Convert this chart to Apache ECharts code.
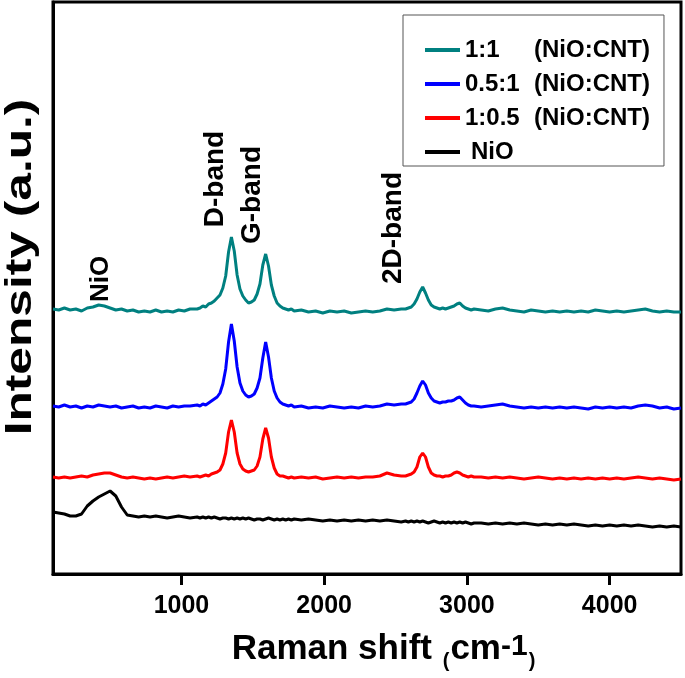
<!DOCTYPE html>
<html><head><meta charset="utf-8">
<script src="https://cdn.jsdelivr.net/npm/echarts@6/dist/echarts.min.js"></script>
<style>html,body{margin:0;padding:0;background:#fff}#c{width:685px;height:678px}</style>
</head><body><div id="c"></div>
<script>
// Raman shift (cm-1) sample positions
const shift = [100,140,180,220,260,300,340,380,420,460,500,540,580,620,660,700,740,780,820,860,900,940,980,1020,1060,
1110,1130,1150,1170,1190,1210,1230,1250,1270,1290,1310,1330,1350,1370,1390,1410,1430,1450,1470,1490,1510,1530,1550,1570,1590,1610,1630,1650,1670,1690,1710,1730,1750,1770,1790,
1840,1890,1940,1990,2040,2090,2140,2190,2240,2290,2340,2390,2440,2490,2540,
2570,2590,2610,2630,2650,2670,2690,2710,2730,2750,2770,2790,2810,2830,2850,2870,2890,2910,2930,2950,2970,2990,3010,3030,3050,
3100,3150,3200,3250,3300,3350,3400,3450,3500,3550,3600,3650,3700,3750,3800,3850,3900,3950,4000,4050,4100,4150,4200,4250,4300,4350,4400,4450,4500];

// Intensity (a.u., stacked offsets as plotted)
const ratio1to1 = [265,264,266,264,265,263,266,267,269,268,266,264,265,263,264,262,263,262,264,262,263,262,264,263,265,
265,266,268,267,270,271,273,276,279,286,298,322,337,323,299,285,278,274,271,272,274,280,290,309,320,308,289,278,271,268,266,265,264,265,263,
264,262,263,261,263,262,263,261,262,263,262,263,265,264,265,
265,266,267,270,275,282,287,281,274,269,267,266,265,266,265,266,267,268,270,271,268,266,265,264,265,
264,263,265,266,264,263,262,264,263,262,263,262,263,262,263,262,264,263,262,263,262,263,264,265,263,262,263,262,262];

const ratio05to1 = [168,167,169,167,168,166,168,167,169,168,167,168,166,167,168,166,167,166,168,167,166,168,167,168,168,
169,168,170,169,171,173,175,177,181,190,205,232,250,233,207,191,183,179,177,178,180,186,196,216,232,217,196,183,176,172,170,169,168,169,167,
168,166,167,166,168,167,166,167,166,168,167,168,170,169,170,
170,171,172,175,181,188,193,189,181,176,173,172,171,172,172,173,173,174,176,177,174,171,169,168,168,
167,168,169,170,168,167,166,167,166,167,166,167,166,167,166,165,167,166,167,166,167,166,168,169,168,166,167,165,166];

const ratio1to05 = [97,96,97,96,97,98,97,99,100,101,101,99,97,96,97,96,95,96,95,96,97,96,97,98,97,
98,97,98,99,98,100,101,102,104,110,121,142,154,142,121,110,105,103,102,103,104,108,117,135,146,136,117,106,100,98,98,97,96,97,96,
97,96,97,95,96,97,96,97,96,97,97,98,101,99,98,
98,99,100,102,107,117,121,117,107,101,99,98,98,97,98,98,99,101,102,101,99,98,97,98,97,
97,96,97,96,97,96,95,96,97,96,95,96,95,96,95,96,95,96,95,96,95,96,97,96,95,96,95,94,95];

const nio = [62,61,60,58,58,60,68,73,77,80,83,78,67,59,58,57,58,57,58,57,56,57,58,57,56,
57,56,57,56,57,56,57,56,55,56,56,55,56,55,56,55,56,55,56,55,54,55,55,54,55,56,55,54,55,54,55,54,55,54,55,
54,55,54,53,54,53,54,53,54,53,54,53,54,53,52,
53,52,53,52,53,52,53,52,51,52,53,52,51,52,51,52,51,52,51,52,51,52,51,50,51,
51,50,51,50,51,50,51,50,49,50,49,50,49,50,49,48,49,48,49,48,49,48,49,48,47,48,47,48,47];

const seriesNames = ['1:1', '0.5:1', '1:0.5', 'NiO'];
const legendNotes = ['(NiO:CNT)', '(NiO:CNT)', '(NiO:CNT)', ''];
const seriesColors = ['#008080', '#0000ff', '#ff0000', '#000000'];
const seriesValues = [ratio1to1, ratio05to1, ratio1to05, nio];

const xTicks = [1000, 2000, 3000, 4000];

// band annotations (text, Raman shift, intensity at label centre)
const bandLabels = ['NiO', 'D-band', 'G-band', '2D-band'];
const bandX = [436, 1235, 1495, 2483];
const bandY = [295, 395, 379, 346];

const FONT = 'Arial, "Liberation Sans", Helvetica, sans-serif';

const chart = echarts.init(document.getElementById('c'), null, {renderer: 'canvas'});

const series = seriesNames.map((name, k) => ({
  name: name,
  type: 'line',
  showSymbol: false,
  symbol: 'none',
  color: seriesColors[k],
  lineStyle: {width: 3, color: seriesColors[k]},
  data: shift.map((x, i) => [x, seriesValues[k][i]]),
  z: 3
}));

const richBase = {fontSize: 24, fontWeight: 'bold', fontFamily: FONT, color: '#000', lineHeight: 24};

chart.setOption({
  animation: false,
  backgroundColor: '#fff',
  grid: {left: 53, right: 4, top: 2, bottom: 104, show: true, borderColor: '#000', borderWidth: 3},
  xAxis: {
    type: 'value', min: 100, max: 4500,
    splitLine: {show: false},
    axisLine: {lineStyle: {color: '#000', width: 3}},
    axisTick: {show: true, customValues: xTicks, length: 11, lineStyle: {color: '#000', width: 3}},
    minorTick: {show: false},
    axisLabel: {customValues: xTicks, formatter: v => String(v), color: '#000', fontSize: 25, fontWeight: 'bold', fontFamily: FONT, margin: 20},
    name: '{a|Raman shift }{p|(}{a|cm}{s|-1}{p|)}',
    nameLocation: 'middle',
    nameGap: 53,
    nameTextStyle: {
      padding: [0, 0, 0, 34],
      rich: {
        a: {fontSize: 35, fontWeight: 'bold', fontFamily: FONT, color: '#000', lineHeight: 40, verticalAlign: 'top'},
        p: {fontSize: 20, fontWeight: 'bold', fontFamily: FONT, color: '#000', lineHeight: 20, verticalAlign: 'bottom', padding: [28, 1, 0, 1]},
        s: {fontSize: 30, fontWeight: 'bold', fontFamily: FONT, color: '#000', lineHeight: 30, verticalAlign: 'top'}
      }
    }
  },
  yAxis: {
    type: 'value', min: 0, max: 572,
    axisLine: {show: true, lineStyle: {color: '#000', width: 3}},
    axisTick: {show: false}, axisLabel: {show: false}, splitLine: {show: false}
  },
  legend: {
    data: seriesNames,
    orient: 'vertical',
    left: 403, top: 15,
    padding: [23, 14, 2, 22],
    itemGap: 10,
    itemWidth: 35, itemHeight: 4,
    icon: 'rect',
    borderColor: '#555', borderWidth: 1,
    formatter: function (name) {
      const i = seriesNames.indexOf(name);
      return legendNotes[i] ? '{a|' + name + '}{b|' + legendNotes[i] + '}' : '{c|' + name + '}';
    },
    textStyle: Object.assign({}, richBase, {
      rich: {
        a: Object.assign({}, richBase, {width: 69}),
        b: Object.assign({}, richBase),
        c: Object.assign({}, richBase, {padding: [0, 0, 0, 6]})
      }
    })
  },
  series: series
});

const graphics = [{
  type: 'text', x: 21, y: 267, rotation: Math.PI / 2, scaleX: 1.38,
  style: {text: 'Intensity (a.u.)', fontSize: 36, fontWeight: 'bold', fontFamily: FONT, fill: '#000', align: 'center', verticalAlign: 'middle'}
}];
bandLabels.forEach((t, i) => {
  const p = chart.convertToPixel({xAxisIndex: 0, yAxisIndex: 0}, [bandX[i], bandY[i]]);
  graphics.push({
    type: 'text', x: p[0], y: p[1], rotation: Math.PI / 2,
    style: {text: t, fontSize: i === 0 ? 26 : 28, fontWeight: 'bold', fontFamily: FONT, fill: '#000', align: 'center', verticalAlign: 'middle'}
  });
});
chart.setOption({graphic: graphics});
</script>
</body></html>
